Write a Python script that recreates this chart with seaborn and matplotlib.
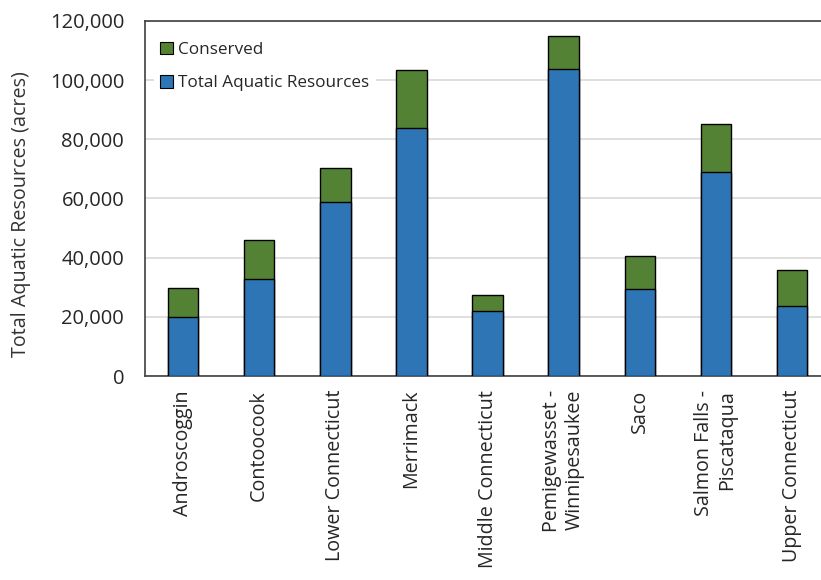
import pandas as pd
import numpy as np
import matplotlib
matplotlib.use('Agg')
import matplotlib.pyplot as plt
import seaborn as sns
from matplotlib.patches import Patch

# Datos (acres)
watersheds = ['Androscoggin', 'Contoocook', 'Lower Connecticut', 'Merrimack',
              'Middle Connecticut', 'Pemigewasset -\nWinnipesaukee', 'Saco',
              'Salmon Falls -\nPiscataqua', 'Upper Connecticut']
total_aquatic = [20000, 32800, 58700, 83800, 21900, 103700, 29500, 69100, 23500]
conserved = [9700, 13200, 11600, 19700, 5600, 11200, 10900, 16200, 12500]

BLUE = '#2E75B6'
GREEN = '#548235'

sns.set_theme(style='white')
plt.rcParams['font.family'] = ['Open Sans', 'DejaVu Sans']

df = pd.DataFrame({
    'watershed': watersheds,
    'total': total_aquatic,
    'stack_top': np.array(total_aquatic) + np.array(conserved),
})

fig = plt.figure(figsize=(8.21, 5.8), dpi=100)
ax = fig.add_axes([145 / 821, 1 - 376 / 580, 685 / 821, 355 / 580])

sns.barplot(data=df, x='watershed', y='stack_top', color=GREEN, width=0.4,
            edgecolor='black', linewidth=1, saturation=1, ax=ax, zorder=3)
sns.barplot(data=df, x='watershed', y='total', color=BLUE, width=0.4,
            edgecolor='black', linewidth=1, saturation=1, ax=ax, zorder=3)

ax.set_ylim(0, 120000)
ax.set_xlim(-0.5, len(watersheds) - 0.5)
ax.set_yticks(np.arange(0, 120001, 20000))
ax.set_yticklabels([f'{v:,}' for v in range(0, 120001, 20000)], fontsize=14.5, color='#262626')
ax.set_xticks(range(len(watersheds)))
ax.set_xticklabels(watersheds, rotation=90, fontsize=14.2, color='#262626',
                   multialignment='right')
ax.tick_params(axis='y', length=0, pad=15)
ax.tick_params(axis='x', length=0, pad=10)
ax.yaxis.grid(True, color='#D9D9D9', linewidth=1.2, zorder=0)
ax.set_axisbelow(True)
for s in ax.spines.values():
    s.set_color('#404040')
    s.set_linewidth(1.2)

ax.set_xlabel('')
ax.set_ylabel('Total Aquatic Resources (acres)', fontsize=14.2, color='#333333')
ax.yaxis.set_label_coords(-0.166, 0.455)

handles = [Patch(facecolor=GREEN, edgecolor='black', linewidth=0.8, label='Conserved'),
           Patch(facecolor=BLUE, edgecolor='black', linewidth=0.8, label='Total Aquatic Resources')]
leg = ax.legend(handles=handles, loc='upper left', bbox_to_anchor=(0.0, 0.985),
                fontsize=12.3, frameon=True, facecolor='white', edgecolor='none',
                framealpha=1, handlelength=0.75, handleheight=0.75, handletextpad=0.3,
                labelspacing=1.0, borderaxespad=0.5)
leg.set_zorder(5)

fig.savefig('out.png', dpi=100)
